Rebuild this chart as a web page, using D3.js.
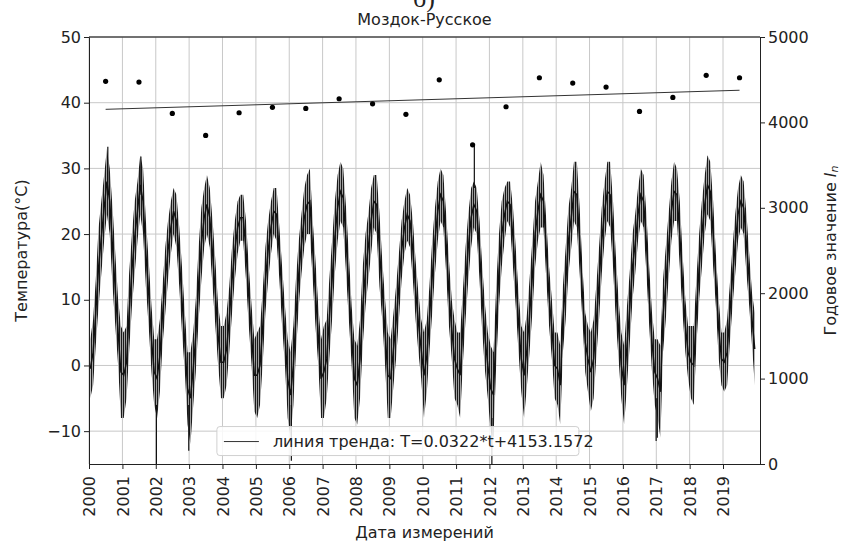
<!DOCTYPE html>
<html>
<head>
<meta charset="utf-8">
<script src="https://cdn.jsdelivr.net/npm/d3@7"></script>
<style>
  body { margin: 0; background: #fff; }
  text { font-family: "DejaVu Sans", sans-serif; fill: #222; }
</style>
</head>
<body>
<div id="chart"></div>
<script>
// years of daily observations
var years = d3.range(2000, 2020);

// monthly envelope (min / max) of the daily temperature, one row per year, Jan..Dec
var tempLo = [
  [-5, -3, 3, 9, 14, 19, 23, 20, 12, 6, 0, -8],
  [-8, -5, 2, 9, 14, 19, 23, 20, 12, 6, -1, -6],
  [-8, -4, 3, 8, 13, 17, 20, 18, 12, 5, -1, -9],
  [-12, -6, -1, 7, 13, 18, 20, 18, 12, 6, 0, -5],
  [-5, -3, 2, 8, 13, 17, 19, 19, 13, 6, 0, -7],
  [-8, -6, 0, 8, 13, 17, 20, 19, 13, 6, 0, -8],
  [-11, -6, 2, 9, 14, 18, 20, 20, 13, 6, 0, -8],
  [-8, -5, 1, 7, 14, 19, 22, 21, 14, 7, 0, -8],
  [-9, -5, 3, 9, 13, 17, 21, 20, 12, 7, 0, -8],
  [-8, -3, 1, 7, 13, 17, 19, 18, 13, 7, 2, -2],
  [-8, -4, 2, 8, 14, 19, 22, 21, 14, 6, 1, -5],
  [-6, -8, 0, 7, 13, 18, 21, 20, 13, 5, -1, -5],
  [-10, -11, 0, 9, 15, 19, 22, 21, 15, 9, 2, -4],
  [-8, -3, 2, 8, 15, 19, 21, 21, 13, 6, 1, -5],
  [-6, -9, 2, 7, 14, 18, 22, 21, 14, 7, -1, -4],
  [-7, -5, 1, 7, 14, 19, 22, 21, 15, 7, 1, -5],
  [-9, -3, 3, 10, 14, 19, 22, 21, 14, 6, -1, -6],
  [-8, -11, 2, 7, 13, 19, 22, 22, 15, 8, 2, -2],
  [-5, -6, 3, 10, 15, 20, 23, 22, 15, 9, 1, -3],
  [-4, -3, 3, 9, 14, 19, 21, 20, 14, 9, 3, -3]
];
var tempHi = [
  [4, 7, 13, 21, 25, 29, 33, 30, 24, 17, 10, 6],
  [5, 6, 14, 20, 25, 28, 32, 30, 22, 16, 9, 4],
  [4, 7, 12, 18, 22, 25, 27, 26, 21, 15, 8, 2],
  [2, 5, 10, 18, 24, 27, 29, 27, 22, 16, 9, 6],
  [6, 8, 12, 18, 22, 25, 26, 26, 22, 15, 9, 4],
  [5, 6, 11, 18, 22, 25, 27, 27, 21, 15, 9, 4],
  [2, 6, 13, 19, 23, 27, 29, 30, 22, 16, 9, 4],
  [6, 7, 13, 19, 25, 29, 31, 30, 24, 17, 9, 4],
  [3, 7, 15, 20, 23, 27, 29, 29, 23, 16, 10, 5],
  [4, 8, 12, 17, 22, 25, 27, 26, 22, 16, 11, 7],
  [5, 7, 12, 19, 24, 28, 30, 29, 23, 16, 10, 7],
  [5, 5, 11, 18, 23, 27, 28, 27, 22, 15, 9, 5],
  [3, 2, 12, 20, 25, 27, 28, 28, 24, 18, 11, 6],
  [5, 8, 13, 19, 25, 28, 31, 29, 22, 15, 10, 5],
  [5, 3, 12, 18, 24, 27, 31, 31, 24, 15, 8, 6],
  [5, 7, 12, 18, 24, 28, 31, 31, 25, 17, 10, 5],
  [3, 9, 14, 20, 23, 27, 30, 29, 23, 15, 8, 4],
  [4, 3, 13, 18, 23, 28, 31, 30, 25, 17, 10, 6],
  [6, 6, 13, 20, 25, 29, 32, 31, 25, 17, 10, 5],
  [5, 7, 12, 18, 23, 27, 29, 28, 23, 17, 11, 8]
];

// single extreme days: date, value from, value to
var spikes = [
  ["2000-07-25", 26, 33.3],
  ["2001-07-22", 26, 31.8],
  ["2002-01-08", -6, -16],
  ["2002-12-28", -6, -13],
  ["2006-01-24", -6, -14.5],
  ["2011-07-20", 27, 33.7],
  ["2012-01-28", -8, -15.5],
  ["2016-12-30", -5, -11.5],
  ["2017-01-12", -5, -11]
];

// annual value I_n (right axis), one dot per year
var annual = [4481, 4472, 4105, 3847, 4113, 4176, 4164, 4277, 4218, 4094,
              4498, 3737, 4183, 4523, 4461, 4414, 4129, 4293, 4551, 4523];

// trend line T = a*t + b, t in days from the first annual point
var trendA = 0.0322, trendB = 4153.1572;

var tempTicks = [-10, 0, 10, 20, 30, 40, 50];
var annualTicks = [0, 1000, 2000, 3000, 4000, 5000];

var svgWidth = 843, svgHeight = 544;
var margin = { top: 37, right: 83, bottom: 80, left: 89 };
var width = svgWidth - margin.left - margin.right;
var height = svgHeight - margin.top - margin.bottom;

var svg = d3.select("#chart").append("svg")
    .attr("width", svgWidth)
    .attr("height", svgHeight);

var defs = svg.append("defs");
defs.append("clipPath").attr("id", "clip")
  .append("rect").attr("width", width).attr("height", height);
var pat = defs.append("pattern").attr("id", "hatch")
    .attr("patternUnits", "userSpaceOnUse")
    .attr("width", 2).attr("height", 2);
pat.append("rect").attr("width", 2).attr("height", 2).attr("fill", "#a0a0a0");
pat.append("rect").attr("width", 1).attr("height", 2).attr("fill", "#1a1a1a");

var g = svg.append("g")
    .attr("transform", `translate(${margin.left},${margin.top})`);

var x = d3.scaleTime()
    .domain([new Date(2000, 0, 1), new Date(2020, 1, 10)])
    .range([0, width]);
var y = d3.scaleLinear().domain([-15, 50]).range([height, 0]);
var y2 = d3.scaleLinear().domain([0, 5000]).range([height, 0]);

var yearTicks = years.map(function(yr) { return new Date(yr, 0, 1); });

// grid
g.append("g").selectAll("line").data(yearTicks).enter().append("line")
    .attr("x1", function(d) { return x(d); }).attr("x2", function(d) { return x(d); })
    .attr("y1", 0).attr("y2", height)
    .attr("stroke", "#c8c8c8").attr("stroke-width", 1);
g.append("g").selectAll("line").data(tempTicks).enter().append("line")
    .attr("x1", 0).attr("x2", width)
    .attr("y1", function(d) { return y(d); }).attr("y2", function(d) { return y(d); })
    .attr("stroke", "#c8c8c8").attr("stroke-width", 1);

// build monthly points
var monthly = [];
years.forEach(function(yr, i) {
  for (var m = 0; m < 12; m++) {
    monthly.push({ date: new Date(yr, m, 15), lo: tempLo[i][m], hi: tempHi[i][m] });
  }
});

var plot = g.append("g").attr("clip-path", "url(#clip)");

plot.append("path")
    .datum(monthly)
    .attr("fill", "url(#hatch)")
    .attr("d", d3.area()
      .x(function(d) { return x(d.date); })
      .y0(function(d) { return y(d.lo); })
      .y1(function(d) { return y(d.hi); }));

plot.append("path")
    .datum(monthly)
    .attr("fill", "none")
    .attr("stroke", "#111")
    .attr("stroke-width", 1.4)
    .attr("d", d3.line()
      .x(function(d) { return x(d.date); })
      .y(function(d) { return y((d.lo + d.hi) / 2); }));

plot.append("g").selectAll("line").data(spikes).enter().append("line")
    .attr("x1", function(d) { return x(new Date(d[0])); })
    .attr("x2", function(d) { return x(new Date(d[0])); })
    .attr("y1", function(d) { return y(d[1]); })
    .attr("y2", function(d) { return y(d[2]); })
    .attr("stroke", "#111").attr("stroke-width", 1.2);

// trend line
var firstDate = new Date(years[0], 6, 1);
var lastDate = new Date(years[years.length - 1], 6, 1);
var lastT = (lastDate - firstDate) / 864e5;
g.append("line")
    .attr("x1", x(firstDate)).attr("y1", y2(trendB))
    .attr("x2", x(lastDate)).attr("y2", y2(trendA * lastT + trendB))
    .attr("stroke", "#333").attr("stroke-width", 1);

// annual dots
g.append("g").selectAll("circle").data(annual).enter().append("circle")
    .attr("cx", function(d, i) { return x(new Date(years[i], 6, 1)); })
    .attr("cy", function(d) { return y2(d); })
    .attr("r", 2.6)
    .attr("fill", "#000");

// axes
var xAxis = g.append("g")
    .attr("transform", `translate(0,${height})`)
    .call(d3.axisBottom(x).tickValues(yearTicks).tickFormat(d3.timeFormat("%Y")).tickSize(5).tickSizeOuter(0));
xAxis.selectAll("text")
    .attr("transform", "rotate(-90)")
    .attr("text-anchor", "end")
    .attr("x", -12).attr("y", 0).attr("dy", "0.35em");

var yAxis = g.append("g")
    .call(d3.axisLeft(y).tickValues(tempTicks).tickFormat(d3.format("")).tickSize(5).tickSizeOuter(0));
yAxis.selectAll("text").text(function(d) { return d < 0 ? "\u2212" + Math.abs(d) : d; });

var yAxis2 = g.append("g")
    .attr("transform", `translate(${width},0)`)
    .call(d3.axisRight(y2).tickValues(annualTicks).tickFormat(d3.format("")).tickSize(5).tickSizeOuter(0));

g.append("line").attr("x1", 0).attr("x2", width).attr("y1", 0).attr("y2", 0).attr("stroke", "#000");

svg.selectAll(".tick text").style("font-size", "16px").attr("fill", "#222");
svg.selectAll(".domain, .tick line").attr("stroke", "#222");

// legend
var leg = g.append("g").attr("transform", `translate(${x(new Date(2003, 10, 1))},${y(-9.3)})`);
leg.append("rect")
    .attr("width", 362).attr("height", 29).attr("rx", 3)
    .attr("fill", "#fff").attr("fill-opacity", 0.85)
    .attr("stroke", "#d0d0d0");
leg.append("line").attr("x1", 7).attr("x2", 42).attr("y1", 15).attr("y2", 15)
    .attr("stroke", "#333").attr("stroke-width", 1);
leg.append("text").attr("x", 56).attr("y", 20.5)
    .style("font-size", "16px")
    .text("линия тренда: T=" + trendA + "*t+" + trendB);

// titles
svg.append("text").attr("x", 424).attr("y", 7)
    .attr("text-anchor", "middle")
    .style("font-family", "Liberation Serif, serif").style("font-size", "26px")
    .text("б)");
svg.append("text").attr("x", margin.left + width / 2).attr("y", 25)
    .attr("text-anchor", "middle").style("font-size", "16px")
    .text("Моздок-Русское");
svg.append("text").attr("x", margin.left + width / 2).attr("y", 538)
    .attr("text-anchor", "middle").style("font-size", "16px")
    .text("Дата измерений");
svg.append("text")
    .attr("transform", `translate(27,${margin.top + height / 2}) rotate(-90)`)
    .attr("text-anchor", "middle").style("font-size", "16px")
    .text("Температура(°C)");
var rl = svg.append("text")
    .attr("transform", `translate(836,${margin.top + height / 2}) rotate(-90)`)
    .attr("text-anchor", "middle").style("font-size", "16px");
rl.append("tspan").text("Годовое значение ");
rl.append("tspan").style("font-style", "italic").text("I");
rl.append("tspan").style("font-style", "italic").style("font-size", "11px").attr("dy", "2").text("n");
</script>
</body>
</html>
